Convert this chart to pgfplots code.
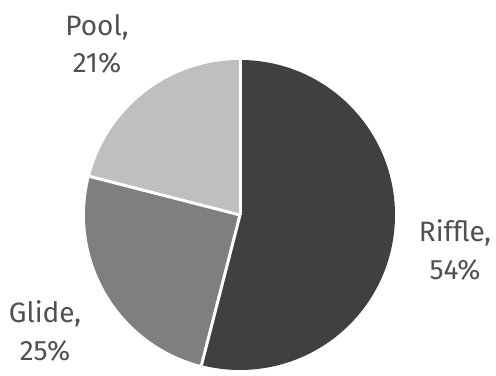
\documentclass[border=0pt]{standalone}
\usepackage{pgfplots}
\pgfplotsset{compat=1.18}
\usepackage{fontspec}
\setmainfont{Fira Sans}
\definecolor{riffle}{HTML}{404040}
\definecolor{glide}{HTML}{7F7F7F}
\definecolor{pool}{HTML}{BFBFBF}
\definecolor{txt}{HTML}{505050}
\begin{document}
\begin{tikzpicture}
% slice values (percent)
\def\vRiffle{54}
\def\vGlide{25}
\def\vPool{21}
\pgfmathsetmacro{\aA}{90}
\pgfmathsetmacro{\aB}{90-\vRiffle*3.6}
\pgfmathsetmacro{\aC}{\aB-\vGlide*3.6}
\pgfmathsetmacro{\aD}{\aC-\vPool*3.6}
\def\R{116.25pt}
\begin{axis}[
  width=372pt, height=279pt, scale only axis,
  xmin=0, xmax=496, ymin=0, ymax=372,
  hide axis, clip=false,
]
\addplot[draw=none, forget plot] coordinates {(240,157)};
\path (rel axis cs:0,0) rectangle (rel axis cs:1,1);
\fill[riffle] (axis cs:240,157) -- ++(\aA:\R) arc[start angle=\aA, end angle=\aB, radius=\R] -- cycle;
\fill[glide] (axis cs:240,157) -- ++(\aB:\R) arc[start angle=\aB, end angle=\aC, radius=\R] -- cycle;
\fill[pool] (axis cs:240,157) -- ++(\aC:\R) arc[start angle=\aC, end angle=\aD, radius=\R] -- cycle;
\draw[white, line width=2.25pt] (axis cs:240,157) -- ++(\aA:\R);
\draw[white, line width=2.25pt] (axis cs:240,157) -- ++(\aB:\R);
\draw[white, line width=2.25pt] (axis cs:240,157) -- ++(\aC:\R);
\node[overlay, txt, align=center, font=\fontsize{21}{28}\selectfont] at (axis cs:97,328) {Pool,\\21\%};
\node[overlay, txt, align=center, font=\fontsize{21}{28}\selectfont] at (axis cs:455,122) {Riffle,\\54\%};
\node[overlay, txt, align=center, font=\fontsize{21}{28}\selectfont] at (axis cs:45,41) {Glide,\\25\%};
\end{axis}
\end{tikzpicture}
\end{document}
